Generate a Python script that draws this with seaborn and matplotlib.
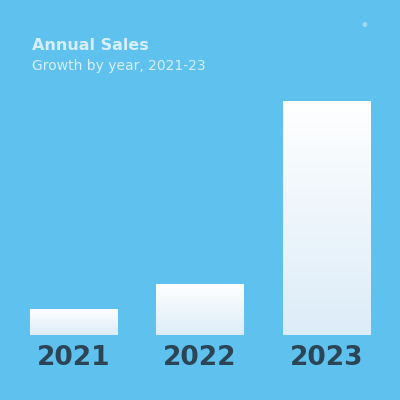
import numpy as np
import seaborn as sns
import matplotlib.pyplot as plt
from matplotlib.colors import LinearSegmentedColormap

# chart data
years = ['2021', '2022', '2023']
sales = [12, 24, 110]
title = 'Annual Sales'
subtitle = 'Growth by year, 2021-23'

bg = '#5fc1ee'
label_color = '#2b4456'

sns.set_theme(style='white')
plt.rcParams['font.family'] = ['DejaVu Sans']

fig = plt.figure(figsize=(4, 4), dpi=100, facecolor=bg)
ax = fig.add_axes([0.025, 0.1625, 0.95, 0.6125])
ax.set_facecolor(bg)

sns.barplot(x=years, y=sales, color='white', width=0.69, ax=ax, saturation=1)

# vertical gradient inside each bar
grad = np.linspace(0, 1, 256).reshape(-1, 1)
cmap = LinearSegmentedColormap.from_list('bar', ['#ffffff', '#dcecf8'])
for p in ax.patches:
    x0, y0 = p.get_x(), p.get_y()
    w, h = p.get_width(), p.get_height()
    im = ax.imshow(grad, cmap=cmap, aspect='auto', extent=(x0, x0 + w, y0, y0 + h),
                   origin='upper', zorder=2)
    im.set_clip_path(p)
    p.set_facecolor('none')
    p.set_edgecolor('none')
ax.set_xlim(-0.5, 2.5)
ax.set_ylim(0, 115)

ax.set_xticks([])
ax.set_yticks([])
ax.set_xlabel('')
ax.set_ylabel('')
sns.despine(ax=ax, left=True, bottom=True)

# year labels under bars
for i, yr in enumerate(years):
    ax.text(i, -0.095, yr, transform=ax.get_xaxis_transform(), ha='center', va='center',
            fontsize=19, fontweight='bold', color=label_color)

fig.text(0.08, 0.885, title, ha='left', va='center', fontsize=11.5,
         fontweight='bold', color='white', alpha=0.75)
fig.text(0.08, 0.835, subtitle, ha='left', va='center', fontsize=10,
         color='white', alpha=0.75)
fig.text(0.912, 0.935, '•', ha='center', va='center', fontsize=12,
         color='white', alpha=0.4)

fig.savefig('out.png', dpi=100, facecolor=bg)
